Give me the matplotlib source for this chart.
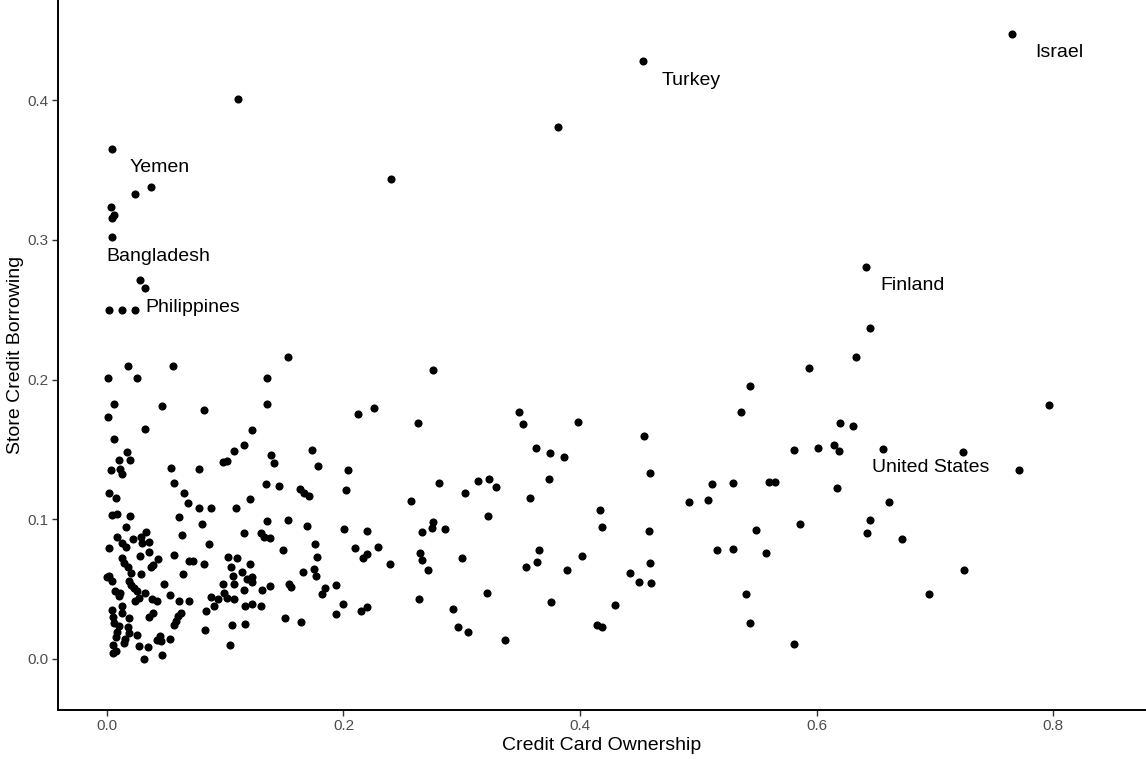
import matplotlib
matplotlib.use("Agg")
import matplotlib.pyplot as plt

plt.rcParams['font.family'] = ['Liberation Sans', 'DejaVu Sans']

# countries that get a name next to their dot
label_names = ['Israel', 'Turkey', 'Finland', 'Yemen', 'Bangladesh', 'Philippines', 'United States']
label_cc = [0.765, 0.453, 0.6415, 0.004, 0.004, 0.024, 0.7236]
label_sc = [0.4475, 0.428, 0.2807, 0.365, 0.302, 0.2495, 0.1484]
# text offsets in pixels from the dot (ggrepel-style placement)
label_offsets = {
    'Israel': (24, -19),
    'Turkey': (19, -20),
    'Finland': (15, -19),
    'Yemen': (18, -19),
    'Bangladesh': (-5, -20),
    'Philippines': (10, 3),
    'United States': (-91, -16),
}

# every other country: credit card ownership vs store credit borrowing
credit_card = [
    0.381, 0.240, 0.645, 0.633, 0.594, 0.276, 0.1105, 0.024, 0.037, 0.003,
    0.006, 0.0045, 0.028, 0.032, 0.0014, 0.0124, 0.153, 0.0175, 0.0555, 0.0006,
    0.0256, 0.135,
    0.544, 0.536, 0.620, 0.631, 0.797, 0.581, 0.6015, 0.6145, 0.619, 0.656,
    0.771, 0.512, 0.529, 0.560, 0.5646, 0.617, 0.492, 0.508, 0.661, 0.645,
    0.643, 0.672, 0.586, 0.549, 0.516, 0.529, 0.557, 0.7245, 0.695, 0.540,
    0.544, 0.581,
    0.348, 0.352, 0.398, 0.454, 0.3625, 0.375, 0.3865, 0.459, 0.314, 0.323,
    0.329, 0.3025, 0.374, 0.3575, 0.322, 0.417, 0.419, 0.458, 0.300, 0.365,
    0.364, 0.354, 0.389, 0.402, 0.459, 0.442, 0.4496, 0.460, 0.321, 0.3755,
    0.430, 0.293, 0.297, 0.3056, 0.337, 0.414, 0.4186,
    0.135, 0.123, 0.212, 0.226, 0.263, 0.173, 0.1387, 0.1415, 0.1787, 0.2035,
    0.202, 0.1345, 0.1455, 0.163, 0.167, 0.171, 0.121, 0.281, 0.257, 0.135,
    0.153, 0.169, 0.130, 0.133, 0.138, 0.149, 0.176, 0.178, 0.2005, 0.2196,
    0.210, 0.229, 0.2167, 0.2201, 0.2396, 0.121, 0.166, 0.175, 0.177, 0.123,
    0.123, 0.131, 0.138, 0.1536, 0.1556, 0.1846, 0.1815, 0.1937, 0.123, 0.130,
    0.1993, 0.1937, 0.1505, 0.1638, 0.215, 0.2196, 0.2638, 0.2647, 0.2664, 0.2717,
    0.2667, 0.2754, 0.2748, 0.2858,
    0.0062, 0.0006, 0.0468, 0.0823, 0.0324, 0.0062, 0.0169, 0.0099, 0.0195, 0.0031,
    0.0112, 0.0127, 0.0544, 0.0781, 0.0564, 0.0651, 0.0688, 0.0781, 0.0882, 0.1091,
    0.0984, 0.1012, 0.1074, 0.1156, 0.0017, 0.0076, 0.004, 0.0085, 0.0192, 0.0609,
    0.0163, 0.0803, 0.0332, 0.0085, 0.0288, 0.0217, 0.0124, 0.0163, 0.0017, 0.0293,
    0.0353, 0.0634, 0.1161, 0.086, 0.0355, 0.0277, 0.0124, 0.0429, 0.0569, 0.0146,
    0.018, 0.0691, 0.0725, 0.0818, 0.0372, 0.0386, 0.1021, 0.1097, 0.1046, 0.020,
    0.0288, 0.0643, 0.0019, 0.0, 0.0045, 0.0186, 0.0203, 0.0226, 0.0485, 0.1068,
    0.1144, 0.1186, 0.1161, 0.0981, 0.1071, 0.0065, 0.011, 0.0099, 0.0256, 0.0324,
    0.0273, 0.024, 0.0378, 0.0423, 0.053, 0.0611, 0.0696, 0.0882, 0.0989, 0.0936,
    0.1012, 0.1074, 0.1164, 0.0902, 0.0837, 0.0045, 0.0127, 0.0053, 0.0129, 0.0189,
    0.0358, 0.0392, 0.0603, 0.0623, 0.0581, 0.0569, 0.0059, 0.0104, 0.018, 0.0087,
    0.0186, 0.0251, 0.0076, 0.0155, 0.0141, 0.0446, 0.0425, 0.0457, 0.0533, 0.0273,
    0.0347, 0.0048, 0.0053, 0.0076, 0.0463, 0.0313, 0.0826, 0.1038, 0.106, 0.117,
]
store_credit = [
    0.381, 0.3435, 0.237, 0.216, 0.208, 0.2066, 0.401, 0.333, 0.338, 0.3234,
    0.318, 0.3153, 0.271, 0.2655, 0.250, 0.250, 0.2163, 0.210, 0.210, 0.2013,
    0.2013, 0.2013,
    0.1956, 0.1767, 0.1691, 0.1669, 0.1818, 0.1498, 0.1508, 0.1531, 0.1491, 0.1505,
    0.1355, 0.1252, 0.1257, 0.1269, 0.1269, 0.1221, 0.1125, 0.114, 0.1126, 0.0992,
    0.0902, 0.0857, 0.0964, 0.0921, 0.0778, 0.0785, 0.0756, 0.0639, 0.0465, 0.0463,
    0.0255, 0.0109,
    0.1767, 0.1684, 0.1698, 0.1596, 0.1508, 0.1474, 0.1445, 0.1333, 0.1271, 0.1288,
    0.1233, 0.119, 0.1286, 0.1152, 0.1023, 0.1066, 0.0945, 0.0914, 0.0723, 0.0778,
    0.0696, 0.0661, 0.0635, 0.0735, 0.0689, 0.0615, 0.0551, 0.0546, 0.047, 0.0408,
    0.0386, 0.036, 0.0229, 0.0191, 0.0138, 0.0241, 0.0229,
    0.1823, 0.1641, 0.1751, 0.1794, 0.1691, 0.1493, 0.1458, 0.140, 0.1379, 0.1352,
    0.1209, 0.125, 0.1238, 0.1214, 0.1186, 0.1164, 0.1143, 0.1257, 0.1131, 0.099,
    0.0992, 0.0954, 0.0902, 0.0871, 0.0866, 0.0778, 0.0821, 0.073, 0.0932, 0.0914,
    0.0797, 0.0804, 0.0725, 0.0751, 0.0682, 0.0678, 0.0625, 0.0646, 0.0594, 0.0585,
    0.0551, 0.0492, 0.0525, 0.0535, 0.0518, 0.0506, 0.0463, 0.053, 0.0391, 0.0382,
    0.0396, 0.0322, 0.0296, 0.0267, 0.0346, 0.037, 0.0427, 0.0756, 0.0708, 0.0639,
    0.0909, 0.0978, 0.0937, 0.0932,
    0.1823, 0.1732, 0.1813, 0.178, 0.1644, 0.1574, 0.1481, 0.1424, 0.1422, 0.135,
    0.1362, 0.1326, 0.1367, 0.136, 0.1262, 0.1188, 0.1118, 0.108, 0.108, 0.108,
    0.141, 0.1415, 0.1491, 0.1529, 0.119, 0.1154, 0.103, 0.104, 0.1025, 0.1016,
    0.0945, 0.0966, 0.0906, 0.0875, 0.0875, 0.0857, 0.0828, 0.0804, 0.0794, 0.0828,
    0.0837, 0.0887, 0.0902, 0.0821, 0.0768, 0.0739, 0.0721, 0.0716, 0.0746, 0.0685,
    0.0661, 0.0701, 0.0703, 0.0682, 0.0656, 0.0673, 0.0728, 0.0721, 0.0661, 0.0613,
    0.0608, 0.061, 0.0596, 0.0585, 0.056, 0.056, 0.053, 0.0506, 0.0537, 0.0594,
    0.0623, 0.0575, 0.0494, 0.0535, 0.0537, 0.0489, 0.0474, 0.0451, 0.0489, 0.047,
    0.0434, 0.0415, 0.0427, 0.0415, 0.0456, 0.0417, 0.0417, 0.0441, 0.0474, 0.0431,
    0.0439, 0.0427, 0.0382, 0.0377, 0.0343, 0.0351, 0.0382, 0.0303, 0.0327, 0.0291,
    0.0298, 0.0327, 0.031, 0.0331, 0.0272, 0.0243, 0.0255, 0.0238, 0.0227, 0.0195,
    0.0186, 0.0172, 0.016, 0.0141, 0.0112, 0.0167, 0.0136, 0.0131, 0.0143, 0.0095,
    0.0086, 0.010, 0.0041, 0.006, 0.0029, 0.0, 0.021, 0.0102, 0.0241, 0.0253,
]

x_ticks = [0.0, 0.2, 0.4, 0.6, 0.8]
y_ticks = [0.0, 0.1, 0.2, 0.3, 0.4]

fig = plt.figure(figsize=(11.46, 7.59), dpi=100)
ax = fig.add_axes([58 / 1146, 49 / 759, 1088 / 1146, 710 / 759])

ax.scatter(credit_card, store_credit, s=34, color='black', linewidths=0, zorder=3)
ax.scatter(label_cc, label_sc, s=34, color='black', linewidths=0, zorder=3)

for name, cx, cy in zip(label_names, label_cc, label_sc):
    dx, dy = label_offsets[name]
    ax.annotate(name, (cx, cy), xytext=(dx, dy), textcoords='offset pixels',
                ha='left', va='center', fontsize=14, color='black')

ax.set_xlim(-0.0414, 0.8786)
ax.set_ylim(-0.0365, 0.4716)
ax.set_xticks(x_ticks)
ax.set_yticks(y_ticks)
ax.set_xticklabels([f'{t:.1f}' for t in x_ticks])
ax.set_yticklabels([f'{t:.1f}' for t in y_ticks])

# classic look: only left and bottom axis lines
for side in ['top', 'right']:
    ax.spines[side].set_visible(False)
for side in ['left', 'bottom']:
    ax.spines[side].set_linewidth(1.4)
    ax.spines[side].set_color('black')
ax.tick_params(axis='both', length=4.5, width=1.0, color='#333333',
               labelsize=11, labelcolor='#4d4d4d', pad=2)

ax.set_xlabel('Credit Card Ownership', fontsize=14, labelpad=3)
ax.set_ylabel('Store Credit Borrowing', fontsize=14, labelpad=3)

fig.savefig('out.png', dpi=100)
plt.close(fig)
